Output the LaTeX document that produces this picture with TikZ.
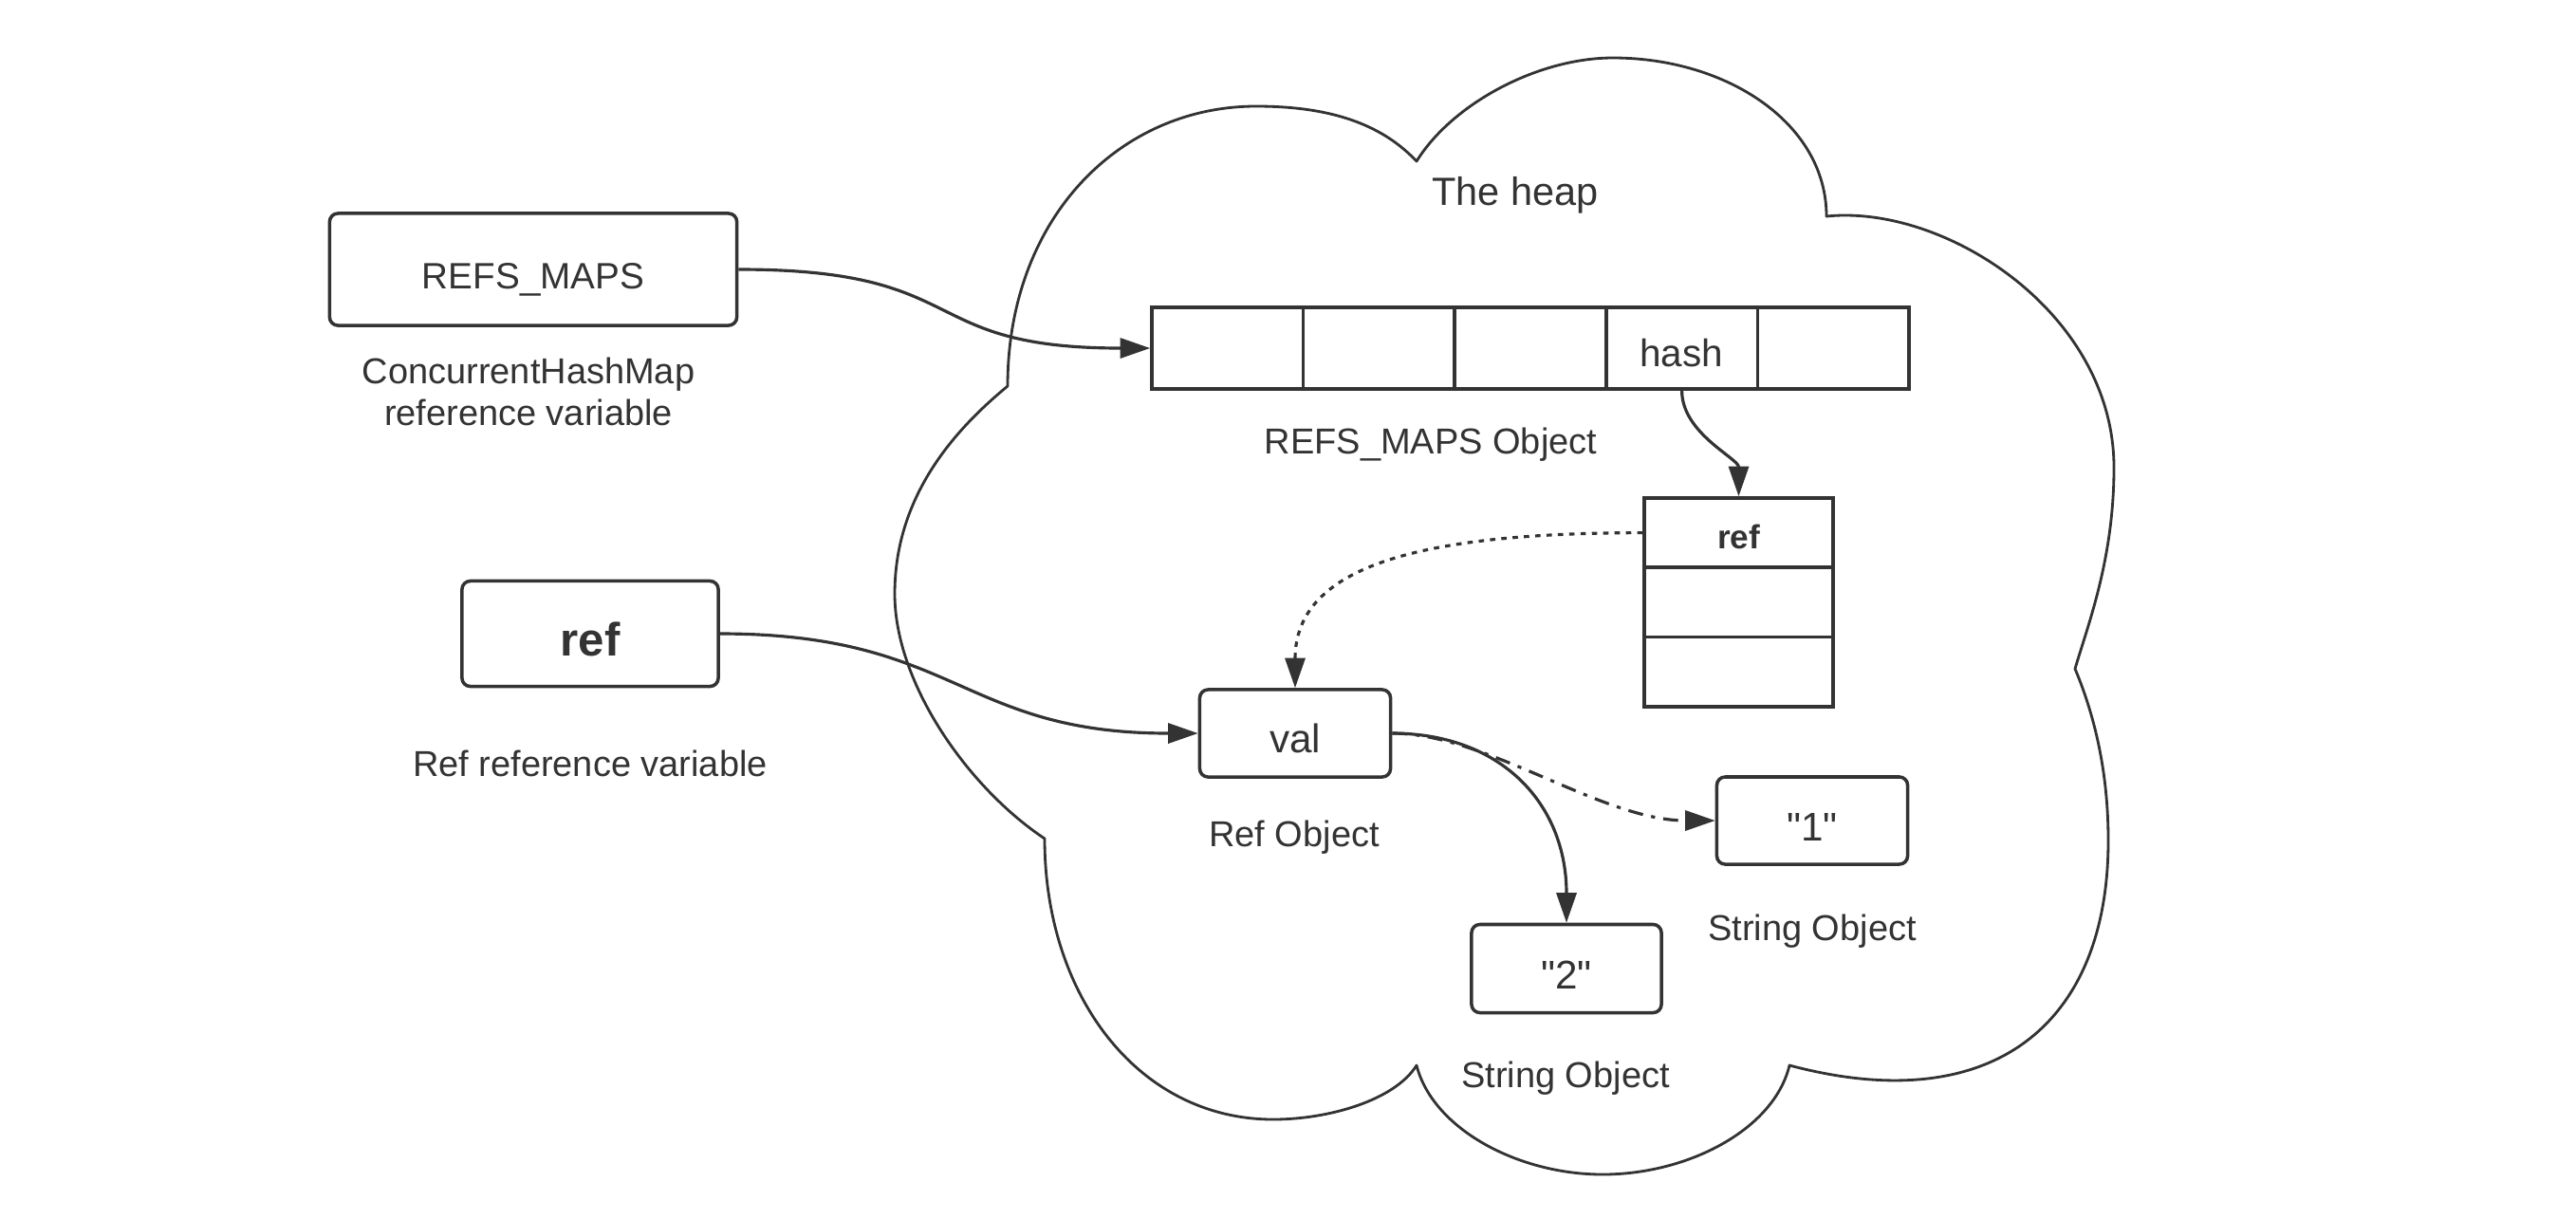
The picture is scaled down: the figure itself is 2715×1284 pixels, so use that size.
\documentclass[tikz,border=0pt]{standalone}
\usepackage{fontspec}
\setmainfont{Liberation Sans}[Ligatures=TeXOff]
\usetikzlibrary{arrows.meta}

\definecolor{hInk}{RGB}{51,51,51}

\begin{document}
\begin{tikzpicture}[x=0.01cm, y=-0.01cm, color=hInk, line width=0.9pt,
  box/.style={draw=hInk, line width=1pt, rounded corners=2.5pt, inner sep=0pt, text depth=0pt},
  cell/.style={draw=hInk, line width=1pt, inner sep=0pt, minimum width=1.596cm, minimum height=0.86cm},
  slot/.style={draw=hInk, line width=1pt, inner sep=0pt, minimum width=1.99cm, minimum height=0.733cm},
  lbl/.style={font=\fontsize{10.8}{12.5}\selectfont, align=center},
  link/.style={draw=hInk, line width=0.9pt, -{Triangle[length=9pt,width=6pt]}}]

  \useasboundingbox (0,0) rectangle (2715,1284);

  % ---- the heap ----
  \draw[line width=0.8pt, line join=round]
    (1062,407) .. controls (1062,230) and (1180,112) .. (1324,112)
    .. controls (1410,112) and (1460,135) .. (1493,170)
    .. controls (1530,110) and (1620,61) .. (1700,61)
    .. controls (1820,61) and (1925,130) .. (1925,228)
    .. controls (2050,215) and (2228,330) .. (2228,493)
    .. controls (2228,590) and (2200,660) .. (2187,705)
    .. controls (2210,760) and (2222,820) .. (2222,886)
    .. controls (2222,1080) and (2100,1180) .. (1886,1123)
    .. controls (1870,1190) and (1780,1238) .. (1689,1238)
    .. controls (1600,1238) and (1510,1190) .. (1493,1123)
    .. controls (1470,1160) and (1400,1180) .. (1342,1180)
    .. controls (1200,1180) and (1101,1050) .. (1101,884)
    .. controls (1020,830) and (943,720) .. (943,626)
    .. controls (943,520) and (1010,450) .. (1062,407) -- cycle;
  \node[font=\fontsize{11.8}{14}\selectfont] (heap) at (1597,206) {The heap};

  % ---- variables ----
  \node[box, minimum width=4.29cm, minimum height=1.18cm, text height=11.9pt, font=\fontsize{11}{13}\selectfont] (refsmaps) at (562,284) {REFS\_MAPS};
  \node[lbl] (refsmapslbl) at (557,413) {ConcurrentHashMap\\reference variable};
  \node[box, minimum width=2.70cm, minimum height=1.11cm, text height=13.4pt, font=\bfseries\fontsize{14}{16}\selectfont] (refvar) at (622,668) {ref};
  \node[lbl] (refvarlbl) at (622,805) {Ref reference variable};

  % ---- map object ----
  \foreach \i in {0,...,4}
    \node[cell] (cell\i) at (1293.8+159.6*\i,367) {};
  \node[font=\fontsize{11.5}{13}\selectfont] (hashlbl) at (1772,372) {hash};
  \node[lbl] (maplbl) at (1508,469) {REFS\_MAPS Object};

  \foreach \j in {0,1,2}
    \node[slot] (slot\j) at (1832.5,561.6+73.3*\j) {};
  \node[font=\bfseries\fontsize{10}{12}\selectfont] (slotlbl) at (1832.5,566) {ref};

  % ---- ref and strings ----
  \node[box, minimum width=2.01cm, minimum height=0.92cm, text height=11.6pt, font=\fontsize{12}{14}\selectfont] (val) at (1365,773) {val};
  \node[lbl] (vallbl) at (1364,883) {Ref Object};
  \node[box, minimum width=2.01cm, minimum height=0.92cm, text height=12.2pt, font=\fontsize{12}{14}\selectfont] (one) at (1910,865) {"1"};
  \node[lbl] (onelbl) at (1910,982) {String Object};
  \node[box, minimum width=2.00cm, minimum height=0.93cm, text height=12.2pt, font=\fontsize{12}{14}\selectfont] (two) at (1651,1021) {"2"};
  \node[lbl] (twolbl) at (1650,1137) {String Object};

  % ---- links ----
  \draw[link] (refsmaps.east) .. controls +(250,0) and +(-250,0) .. (cell0.west);
  \draw[link] (refvar.east) .. controls +(250,0) and +(-250,0) .. (val.west);
  \draw[link] (cell3.south) .. controls +(0,45) and +(0,-40) .. (slot0.north);
  \draw[link, dash pattern=on 1.6pt off 1.8pt] (slot0.west) .. controls +(-230,0) and +(0,-130) .. (val.north);
  \draw[link, dash pattern=on 4.5pt off 2.5pt on 1.2pt off 2.5pt] (val.east) .. controls +(100,0) and +(-120,0) .. (one.west);
  \draw[link] (val.east) .. controls +(115,0) and +(0,-125) .. (two.north);

\end{tikzpicture}
\end{document}
